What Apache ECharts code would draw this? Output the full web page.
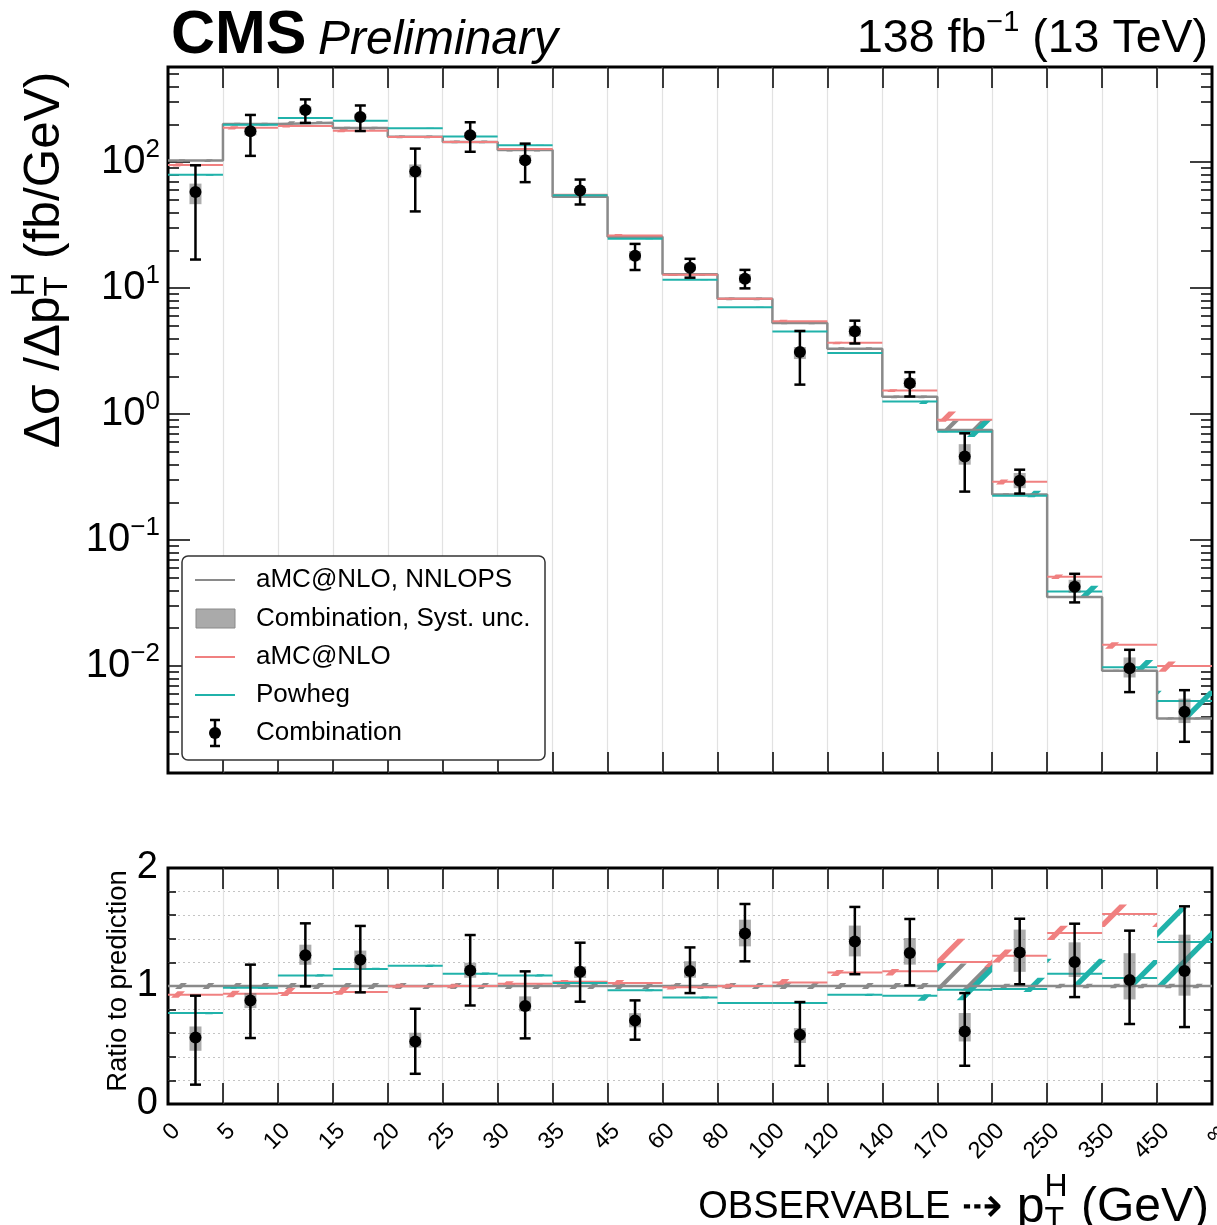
<!DOCTYPE html>
<html>
<head>
<meta charset="utf-8">
<script src="https://cdn.jsdelivr.net/npm/echarts@6.0.0/dist/echarts.min.js"></script>
<style>
  html, body { margin: 0; padding: 0; background: #fff; }
  #chart { width: 1217px; height: 1225px; }
</style>
</head>
<body>
<div id="chart"></div>
<script>
// bin edges of pT(H) in GeV, 19 bins drawn with equal width
const edgeLabels = ['0', '5', '10', '15', '20', '25', '30', '35', '45', '60', '80', '100', '120', '140', '170', '200', '250', '350', '450', '∞'];

// aMC@NLO, NNLOPS prediction, fb/GeV (reference of the ratio panel)
const nnlops = [103, 201, 206, 187, 159, 145, 125, 53.3, 25.6, 12.9, 8.25, 5.3, 3.31, 1.375, 0.75, 0.231, 0.0354, 0.00918, 0.00385];
const nnlopsLo = [0.975, 0.975, 0.975, 0.975, 0.975, 0.975, 0.975, 0.975, 0.975, 0.975, 0.975, 0.975, 0.975, 0.975, 0.96, 0.98, 0.98, 0.98, 0.98];
const nnlopsHi = [1.025, 1.025, 1.025, 1.025, 1.025, 1.025, 1.025, 1.025, 1.025, 1.025, 1.025, 1.025, 1.025, 1.025, 1.19, 1.02, 1.02, 1.02, 1.02];

// aMC@NLO, ratio to NNLOPS
const amcRatio = [0.925, 0.935, 0.94, 0.95, 0.997, 1.0, 1.02, 1.035, 1.025, 0.99, 1.0, 1.03, 1.115, 1.124, 1.204, 1.257, 1.449, 1.611, 2.6];
const amcLo = [0.90, 0.905, 0.915, 0.925, 0.98, 0.98, 1.0, 1.01, 1.0, 0.97, 0.98, 1.005, 1.085, 1.09, 1.16, 1.2, 1.39, 1.5, 2.35];
const amcHi = [0.955, 0.96, 0.985, 1.0, 1.02, 1.02, 1.04, 1.05, 1.05, 1.01, 1.02, 1.06, 1.135, 1.145, 1.40, 1.31, 1.51, 1.69, 2.83];

// Powheg, ratio to NNLOPS
const powhegRatio = [0.771, 0.985, 1.09, 1.144, 1.172, 1.104, 1.09, 1.025, 0.963, 0.903, 0.856, 0.856, 0.926, 0.918, 0.969, 0.975, 1.104, 1.068, 1.373];
const powhegLo = [0.76, 0.975, 1.08, 1.135, 1.16, 1.095, 1.08, 1.015, 0.955, 0.895, 0.848, 0.848, 0.915, 0.875, 0.88, 0.95, 1.0, 1.0, 1.0];
const powhegHi = [0.78, 0.995, 1.10, 1.155, 1.18, 1.115, 1.10, 1.035, 0.972, 0.912, 0.865, 0.865, 0.935, 0.93, 1.2, 1.07, 1.23, 1.22, 1.66];

// Combination, ratio to NNLOPS: central value, total unc. and syst. unc.
const dataRatio = [0.564, 0.878, 1.26, 1.223, 0.53, 1.132, 0.83, 1.121, 0.708, 1.127, 1.444, 0.587, 1.378, 1.28, 0.615, 1.283, 1.204, 1.05, 1.128];
const totLo = [0.164, 0.559, 0.997, 0.946, 0.256, 0.835, 0.556, 0.867, 0.545, 0.94, 1.209, 0.324, 1.10, 1.005, 0.324, 1.015, 0.906, 0.678, 0.652];
const totHi = [0.918, 1.181, 1.531, 1.509, 0.807, 1.432, 1.124, 1.367, 0.878, 1.327, 1.695, 0.864, 1.67, 1.568, 0.94, 1.57, 1.528, 1.469, 1.675];
const systLo = [0.451, 0.813, 1.18, 1.14, 0.477, 1.07, 0.785, 1.068, 0.65, 1.07, 1.336, 0.517, 1.251, 1.181, 0.53, 1.12, 1.076, 0.886, 0.918];
const systHi = [0.657, 0.94, 1.35, 1.30, 0.604, 1.197, 0.912, 1.166, 0.77, 1.21, 1.562, 0.644, 1.512, 1.407, 0.771, 1.478, 1.37, 1.278, 1.435];

// y ticks of the upper panel (log10 of fb/GeV)
const majorTicks = [-2, -1, 0, 1, 2];
const minorMant = [2, 3, 4, 5, 6, 7, 8, 9];

const FONT = "'Liberation Sans', Arial, Helvetica, sans-serif";
const GRAY = '#8a8a8a';
const RED = '#f08080';
const TEAL = '#20b2aa';
const SYST = 'rgba(105,105,105,0.55)';
const LMIN = -2.848, LMAX = 2.756;
const NB = nnlops.length;
const L = Math.log10;

const minorTicks = [];
for (let e = -3; e <= 2; e++) {
  minorMant.forEach(m => {
    const v = L(m) + e;
    if (v > LMIN && v < LMAX) minorTicks.push(v);
  });
}

function clipPoly(poly, f) {
  const out = [];
  for (let j = 0; j < poly.length; j++) {
    const p = poly[j], q = poly[(j + 1) % poly.length];
    const fp = f(p), fq = f(q);
    if (fp >= 0) out.push(p);
    if ((fp >= 0) !== (fq >= 0)) {
      const t = fp / (fp - fq);
      out.push([p[0] + t * (q[0] - p[0]), p[1] + t * (q[1] - p[1])]);
    }
  }
  return out;
}

// "/" hatch inside each bin's band; off = where a stroke crosses the band middle
function hatchItem(color, gap, off, w) {
  return function (params, api) {
    const i = api.value(0);
    const a = api.coord([i, api.value(2)]);
    const b = api.coord([i + 1, api.value(1)]);
    const x0 = a[0], x1 = b[0];
    const y0 = Math.min(a[1], b[1]), y1 = Math.max(a[1], b[1]);
    const base = x0 + off + (y0 + y1) / 2;
    const kids = [];
    const kmin = Math.floor((x0 + y0 - base) / gap) - 1;
    const kmax = Math.ceil((x1 + y1 - base) / gap) + 1;
    for (let k = kmin; k <= kmax; k++) {
      const c = base + k * gap;
      let poly = [[x0, y0], [x1, y0], [x1, y1], [x0, y1]];
      poly = clipPoly(poly, p => p[0] + p[1] - (c - w / 2));
      poly = clipPoly(poly, p => (c + w / 2) - p[0] - p[1]);
      if (poly.length >= 3) kids.push({ type: 'polygon', shape: { points: poly }, style: { fill: color } });
    }
    return { type: 'group', children: kids };
  };
}

function hlineItem(color) {
  return function (params, api) {
    const i = api.value(0), v = api.value(1);
    const a = api.coord([i, v]), b = api.coord([i + 1, v]);
    return { type: 'line', shape: { x1: a[0], y1: a[1], x2: b[0], y2: b[1] }, style: { stroke: color, lineWidth: 2 } };
  };
}

function systItem(params, api) {
  const i = api.value(0);
  const a = api.coord([i + 0.5, api.value(2)]);
  const b = api.coord([i + 0.5, api.value(1)]);
  return { type: 'rect', shape: { x: a[0] - 6, y: a[1], width: 12, height: b[1] - a[1] }, style: { fill: SYST } };
}

function dataItem(params, api) {
  const i = api.value(0);
  const c = api.coord([i + 0.5, api.value(1)]);
  const lo = api.coord([i + 0.5, api.value(2)]);
  const hi = api.coord([i + 0.5, api.value(3)]);
  const st = { stroke: '#000', lineWidth: 2.5 };
  return {
    type: 'group',
    children: [
      { type: 'line', shape: { x1: c[0], y1: lo[1], x2: c[0], y2: hi[1] }, style: st },
      { type: 'line', shape: { x1: c[0] - 5.5, y1: lo[1], x2: c[0] + 5.5, y2: lo[1] }, style: st },
      { type: 'line', shape: { x1: c[0] - 5.5, y1: hi[1], x2: c[0] + 5.5, y2: hi[1] }, style: st },
      { type: 'circle', shape: { cx: c[0], cy: c[1], r: 6 }, style: { fill: '#000' } }
    ]
  };
}

// builds the series of one panel; tr maps (prediction, ratio) to the axis value
function panelSeries(xi, yi, tr, clip) {
  const custom = (name, data, renderItem, z) => ({
    name: name, type: 'custom', xAxisIndex: xi, yAxisIndex: yi, data: data,
    renderItem: renderItem, z: z, clip: clip, silent: true, animation: false
  });
  const band = (lo, hi) => nnlops.map((g, i) => [i, tr(g, lo[i]), tr(g, hi[i])]);
  const step = nnlops.map((g, i) => [i, tr(g, 1)]);
  step.push([NB, tr(nnlops[NB - 1], 1)]);
  return [
    custom('aMC@NLO, NNLOPS band', band(nnlopsLo, nnlopsHi), hatchItem(GRAY, 27.45, 13, 6), 3),
    custom('aMC@NLO band', band(amcLo, amcHi), hatchItem(RED, 54.9, 10, 7.5), 3),
    custom('Powheg band', band(powhegLo, powhegHi), hatchItem(TEAL, 54.9, 42, 7.5), 3),
    {
      name: 'aMC@NLO, NNLOPS', type: 'line', xAxisIndex: xi, yAxisIndex: yi, data: step,
      step: 'end', symbol: 'none', lineStyle: { color: GRAY, width: 2.5 }, z: 4, silent: true, animation: false
    },
    custom('aMC@NLO', nnlops.map((g, i) => [i, tr(g, amcRatio[i])]), hlineItem(RED), 5),
    custom('Powheg', nnlops.map((g, i) => [i, tr(g, powhegRatio[i])]), hlineItem(TEAL), 5),
    custom('Combination, Syst. unc.', nnlops.map((g, i) => [i, tr(g, systLo[i]), tr(g, systHi[i])]), systItem, 6),
    custom('Combination', nnlops.map((g, i) => [i, tr(g, dataRatio[i]), tr(g, totLo[i]), tr(g, totHi[i])]), dataItem, 7)
  ];
}

const tickStyle = { color: '#000', width: 1.5 };

function xAxisDef(grid, pos, withLabels) {
  return {
    gridIndex: grid, type: 'value', min: 0, max: NB, interval: 1, position: pos,
    axisLine: { show: false, onZero: false },
    axisTick: { show: true, inside: true, length: 21, lineStyle: tickStyle },
    axisLabel: withLabels ? {
      show: true, rotate: 45, margin: 15, fontSize: 23.5, color: '#000', fontFamily: FONT,
      verticalAlign: 'top',
      formatter: v => edgeLabels[Math.round(v)]
    } : { show: false },
    splitLine: { show: pos === 'bottom', showMinLine: false, showMaxLine: false, lineStyle: { color: '#e2e2e2', width: 1.2 } }
  };
}

function supText(v) {
  return v < 0 ? '−' + (-v) : String(v);
}

function yTopDef(pos, major) {
  return {
    gridIndex: 0, type: 'value', min: LMIN, max: LMAX, position: pos,
    axisLine: { show: false, onZero: false },
    axisTick: { show: true, inside: true, length: major ? 22 : 11, customValues: major ? majorTicks : minorTicks, lineStyle: tickStyle },
    axisLabel: (major && pos === 'left') ? {
      show: true, customValues: majorTicks, margin: 8, color: '#000',
      formatter: v => '{b|10}{s|' + supText(Math.round(v)) + '}',
      rich: {
        b: { fontSize: 40, fontFamily: FONT, color: '#000', lineHeight: 50 },
        s: { fontSize: 26, fontFamily: FONT, color: '#000', verticalAlign: 'top', lineHeight: 26 }
      }
    } : { show: false },
    splitLine: { show: false }
  };
}

function yRatioDef(pos) {
  return {
    gridIndex: 1, type: 'value', min: 0, max: 2, interval: 0.2, position: pos,
    axisLine: { show: false, onZero: false },
    axisTick: { show: true, inside: true, length: 8, lineStyle: tickStyle },
    axisLabel: pos === 'left' ? {
      show: true, customValues: [0, 1, 2], margin: 10, fontSize: 38, fontFamily: FONT, color: '#000',
      formatter: v => String(Math.round(v))
    } : { show: false },
    splitLine: { show: pos === 'left', showMinLine: false, showMaxLine: false, lineStyle: { type: [2, 3], color: '#c4c4c4', width: 1.2 } }
  };
}

// text rows with super/subscripts, measured so the pieces line up
const mctx = document.createElement('canvas').getContext('2d');
function fontOf(p) {
  return (p.italic ? 'italic ' : '') + (p.bold ? 'bold ' : '') + p.size + 'px ' + (p.family || FONT);
}
function rowWidth(parts) {
  let w = 0;
  parts.forEach(p => {
    let m = 0;
    (p.stack || [p]).forEach(q => { mctx.font = fontOf(q); m = Math.max(m, mctx.measureText(q.t).width); });
    w += m;
  });
  return w;
}
function rowEls(parts, x0, y) {
  const out = [];
  let x = x0;
  parts.forEach(p => {
    let m = 0;
    (p.stack || [p]).forEach(q => {
      mctx.font = fontOf(q);
      m = Math.max(m, mctx.measureText(q.t).width);
      out.push({
        type: 'text', x: x + (q.dx || 0), y: y + (q.dy || 0), z: 100,
        style: { text: q.t, font: fontOf(q), fill: '#000', align: 'left', verticalAlign: 'middle', textAlign: 'left', textVerticalAlign: 'middle' }
      });
    });
    x += m;
  });
  return out;
}

const yTitle = [
  { t: 'Δσ /Δp', size: 49.5 },
  { stack: [{ t: 'H', size: 33, dy: -20 }, { t: 'T', size: 33, dy: 13 }] },
  { t: ' (fb/GeV)', size: 49.5 }
];
const xTitle = [
  { t: 'OBSERVABLE ', size: 38 },
  { t: '⇢ ', size: 50 },
  { t: 'p', size: 50 },
  { stack: [{ t: 'H', size: 32, dy: -21 }, { t: 'T', size: 32, dy: 12 }] },
  { t: ' (GeV)', size: 48 }
];
const lumiTitle = [
  { t: '138 fb', size: 46.5 },
  { t: '−1', size: 29, dy: -16 },
  { t: ' (13 TeV)', size: 46.5 }
];

const legendRows = [
  { text: 'aMC@NLO, NNLOPS', y: 580 },
  { text: 'Combination, Syst. unc.', y: 619 },
  { text: 'aMC@NLO', y: 657 },
  { text: 'Powheg', y: 695 },
  { text: 'Combination', y: 733 }
];

const legendEls = [
  { type: 'rect', z: 99, shape: { x: 182, y: 556, width: 363, height: 204, r: 6 }, style: { fill: '#fff', stroke: '#333', lineWidth: 1.5 } },
  { type: 'line', z: 100, shape: { x1: 195, y1: 580, x2: 235, y2: 580 }, style: { stroke: GRAY, lineWidth: 2 } },
  { type: 'rect', z: 100, shape: { x: 196, y: 609, width: 39, height: 19 }, style: { fill: '#aaaaaa', stroke: '#8a8a8a', lineWidth: 1 } },
  { type: 'line', z: 100, shape: { x1: 195, y1: 657, x2: 235, y2: 657 }, style: { stroke: RED, lineWidth: 2 } },
  { type: 'line', z: 100, shape: { x1: 195, y1: 695, x2: 235, y2: 695 }, style: { stroke: TEAL, lineWidth: 2 } },
  { type: 'line', z: 100, shape: { x1: 215, y1: 720, x2: 215, y2: 746 }, style: { stroke: '#000', lineWidth: 2.5 } },
  { type: 'line', z: 100, shape: { x1: 210, y1: 720, x2: 220, y2: 720 }, style: { stroke: '#000', lineWidth: 2.5 } },
  { type: 'line', z: 100, shape: { x1: 210, y1: 746, x2: 220, y2: 746 }, style: { stroke: '#000', lineWidth: 2.5 } },
  { type: 'circle', z: 100, shape: { cx: 215, cy: 733, r: 6 }, style: { fill: '#000' } }
];
legendRows.forEach(r => legendEls.push({
  type: 'text', z: 100, x: 256, y: r.y,
  style: { text: r.text, font: '26px ' + FONT, fill: '#000', align: 'left', verticalAlign: 'middle', textAlign: 'left', textVerticalAlign: 'middle' }
}));

const yTitleW = rowWidth(yTitle);
const xTitleW = rowWidth(xTitle);
const lumiW = rowWidth(lumiTitle);

const graphics = [].concat(
  [{
    type: 'group', x: 45, y: 260, rotation: Math.PI / 2, z: 100,
    children: rowEls(yTitle, -yTitleW / 2, 0)
  }, {
    type: 'text', z: 100, x: 118, y: 981, rotation: Math.PI / 2,
    style: { text: 'Ratio to prediction', font: '27.5px ' + FONT, fill: '#000', align: 'center', verticalAlign: 'middle', textAlign: 'center', textVerticalAlign: 'middle' }
  }, {
    type: 'text', z: 100, x: 171, y: 36,
    style: { text: 'CMS', font: 'bold 61px ' + FONT, fill: '#000', align: 'left', verticalAlign: 'middle', textAlign: 'left', textVerticalAlign: 'middle' }
  }, {
    type: 'text', z: 100, x: 318, y: 41,
    style: { text: 'Preliminary', font: 'italic 48px ' + FONT, fill: '#000', align: 'left', verticalAlign: 'middle', textAlign: 'left', textVerticalAlign: 'middle' }
  }],
  rowEls(lumiTitle, 1208 - lumiW, 39),
  rowEls(xTitle, 1209 - xTitleW, 1208),
  legendEls
);

const option = {
  animation: false,
  textStyle: { fontFamily: FONT },
  grid: [
    { left: 168, top: 67, width: 1044, height: 706, show: true, borderColor: '#000', borderWidth: 3, backgroundColor: 'transparent', containLabel: false, outerBoundsMode: 'none' },
    { left: 168, top: 868, width: 1044, height: 236, show: true, borderColor: '#000', borderWidth: 3, backgroundColor: 'transparent', containLabel: false, outerBoundsMode: 'none' }
  ],
  xAxis: [
    xAxisDef(0, 'bottom', false),
    xAxisDef(0, 'top', false),
    xAxisDef(1, 'bottom', true),
    xAxisDef(1, 'top', false)
  ],
  yAxis: [
    yTopDef('left', true),
    yTopDef('left', false),
    yTopDef('right', true),
    yTopDef('right', false),
    yRatioDef('left'),
    yRatioDef('right')
  ],
  series: [].concat(
    panelSeries(0, 0, (g, r) => L(g * r), false),
    panelSeries(2, 4, (g, r) => r, true)
  ),
  graphic: graphics
};

const chart = echarts.init(document.getElementById('chart'));
chart.setOption(option);
</script>
</body>
</html>
